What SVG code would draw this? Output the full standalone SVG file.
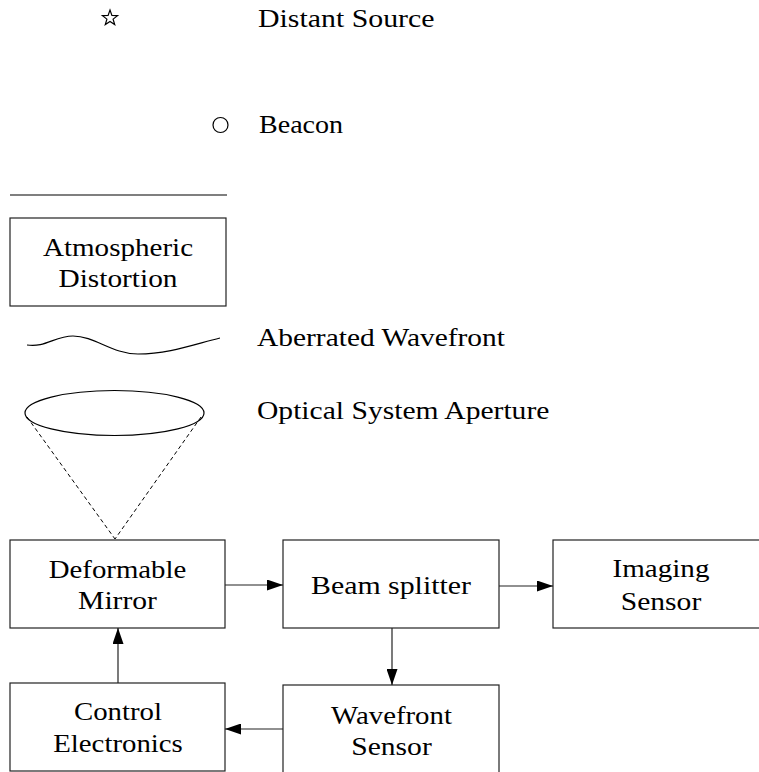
<svg xmlns="http://www.w3.org/2000/svg" width="759" height="772" viewBox="0 0 759 772">
  <style>
    text { font-family: "Liberation Serif", "Times New Roman", serif; font-size: 25.5px; fill: #000; }
    .mid { text-anchor: middle; }
    .box { fill: #fff; stroke: #222; stroke-width: 1.2; }
    .line { fill: none; stroke: #000; stroke-width: 1.2; }
    .conn { fill: none; stroke: #222; stroke-width: 1.2; marker-end: url(#arrow); }
    .dash { fill: none; stroke: #000; stroke-width: 1; stroke-dasharray: 4 3; }
  </style>
  <defs>
    <marker id="arrow" viewBox="0 0 16 11" refX="16" refY="5.5" markerWidth="16" markerHeight="11" markerUnits="userSpaceOnUse" orient="auto">
      <path d="M0,0 L16,5.5 L0,11 Z" fill="#000"/>
    </marker>
  </defs>
  <rect width="759" height="772" fill="#fff"/>

  <!-- legend-style elements in the upper part; labels are widened slightly -->
  <g id="distant-source">
    <polygon class="line" stroke-width="1" points="110,10 111.9,15.4 117.6,15.6 113.1,19.1 114.7,24.6 110,21.4 105.3,24.6 106.9,19.1 102.4,15.6 108.1,15.4"/>
    <text transform="translate(258 27) scale(1.17 1)">Distant Source</text>
  </g>
  <g id="beacon">
    <circle class="line" cx="220.5" cy="125" r="7.5"/>
    <text transform="translate(259 133) scale(1.1 1)">Beacon</text>
  </g>
  <g id="horizon">
    <line class="line" x1="10" y1="195" x2="227" y2="195"/>
  </g>
  <g id="atmospheric-distortion">
    <rect class="box" x="10" y="218" width="216" height="88"/>
    <text class="mid" transform="translate(118 256) scale(1.14 1)">Atmospheric</text>
    <text class="mid" transform="translate(118 287) scale(1.15 1)">Distortion</text>
  </g>
  <g id="aberrated-wavefront">
    <path class="line" d="M27,345 C45,348 55,336 73,336 C95,336 112,354 138,354 C168,354 192,345 220,338"/>
    <text transform="translate(257 346) scale(1.155 1)">Aberrated Wavefront</text>
  </g>
  <g id="aperture">
    <ellipse class="line" cx="114.5" cy="413" rx="89.5" ry="22.5"/>
    <line class="dash" x1="27" y1="417" x2="115" y2="539"/>
    <line class="dash" x1="201" y1="417" x2="115" y2="539"/>
    <text transform="translate(257 419) scale(1.16 1)">Optical System Aperture</text>
  </g>

  <!-- optical / control loop -->
  <g id="deformable-mirror">
    <rect class="box" x="10" y="540" width="215" height="88"/>
    <text class="mid" transform="translate(117.5 578) scale(1.13 1)">Deformable</text>
    <text class="mid" transform="translate(117.5 609) scale(1.16 1)">Mirror</text>
  </g>
  <g id="beam-splitter">
    <rect class="box" x="283" y="540" width="216" height="88"/>
    <text class="mid" transform="translate(391 594) scale(1.17 1)">Beam splitter</text>
  </g>
  <g id="imaging-sensor">
    <rect class="box" x="553" y="540" width="216" height="88"/>
    <text class="mid" transform="translate(661 577) scale(1.14 1)">Imaging</text>
    <text class="mid" transform="translate(661 610) scale(1.16 1)">Sensor</text>
  </g>
  <g id="wavefront-sensor">
    <rect class="box" x="283" y="685" width="216" height="88"/>
    <text class="mid" transform="translate(391.5 724) scale(1.13 1)">Wavefront</text>
    <text class="mid" transform="translate(391.5 755) scale(1.16 1)">Sensor</text>
  </g>
  <g id="control-electronics">
    <rect class="box" x="10" y="683" width="215" height="88"/>
    <text class="mid" transform="translate(118 720) scale(1.13 1)">Control</text>
    <text class="mid" transform="translate(118 752) scale(1.13 1)">Electronics</text>
  </g>

  <g id="connectors">
    <line class="conn" x1="225" y1="585" x2="283" y2="585"/>
    <line class="conn" x1="499" y1="586" x2="553" y2="586"/>
    <line class="conn" x1="392" y1="628" x2="392" y2="685"/>
    <line class="conn" x1="283" y1="729" x2="225" y2="729"/>
    <line class="conn" x1="118" y1="683" x2="118" y2="628"/>
  </g>
</svg>
